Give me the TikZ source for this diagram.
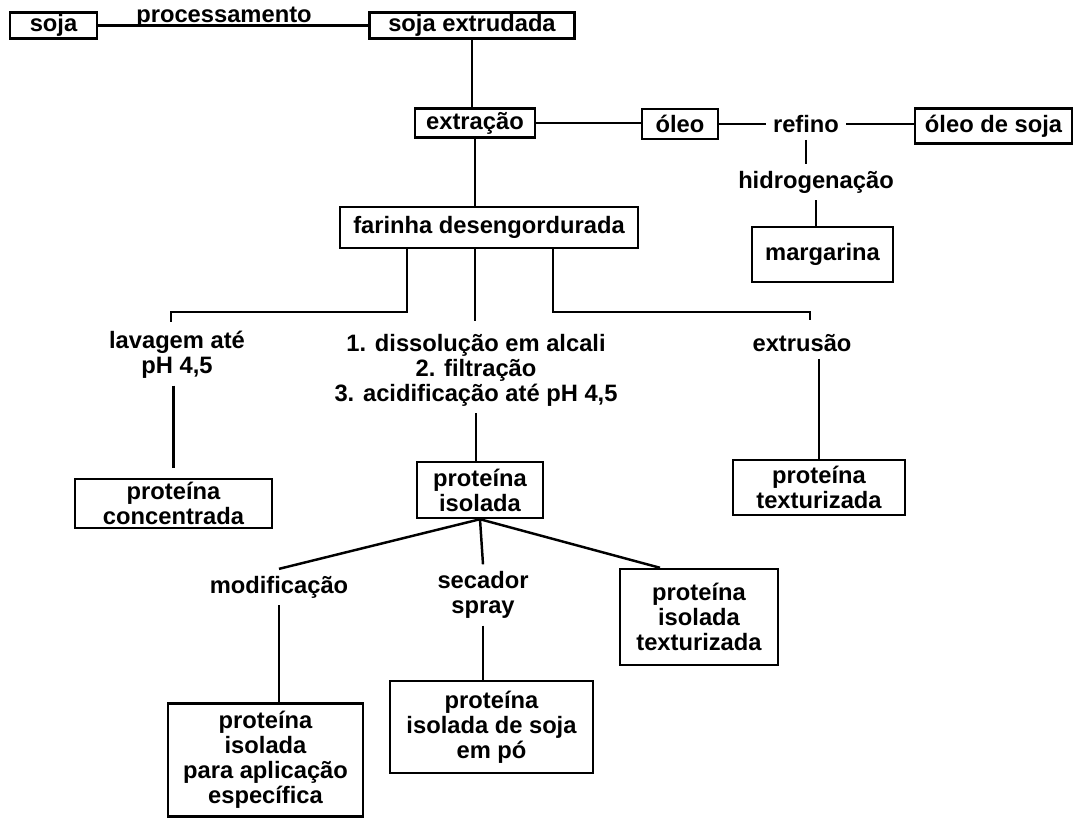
\documentclass[tikz,border=0pt]{standalone}
\usepackage{fontspec}
\setmainfont{Liberation Sans}

\begin{document}
\begin{tikzpicture}[x=0.02cm,y=-0.02cm,line width=1.4pt,
		font=\bfseries\fontsize{13.5}{14.2}\selectfont,
		caixa/.style={rectangle,draw=black,align=center,inner sep=1pt},
		etapa/.style={align=center}]
	\useasboundingbox (0,0) rectangle (1077,818);

		% linha de cima
		\node[caixa,minimum width=1.74cm,minimum height=.5cm] (soja) at (53.5,25.5) {soja};
		\node[caixa,minimum width=4.1cm,minimum height=.48cm] (sojaext) at (472,25.5) {soja extrudada};
		\node[etapa,anchor=base] (proc) at (224,22) {processamento};

		% oleo
		\node[caixa,minimum width=2.4cm,minimum height=.58cm] (extracao) at (475,123) {extração};
		\node[caixa,minimum width=1.52cm,minimum height=.6cm] (oleo) at (680,124) {óleo};
		\node[etapa] (refino) at (806,124) {refino};
		\node[caixa,minimum width=3.14cm,minimum height=.7cm] (oleosoja) at (993.5,126) {óleo de soja};
		\node[etapa] (hidrog) at (816,182) {hidrogenação};
		\node[caixa,minimum width=2.82cm,minimum height=1.1cm] (margarina) at (822.5,254.5) {margarina};

		% farinha e ramos
		\node[caixa,minimum width=5.96cm,minimum height=.82cm] (farinha) at (489,227.5) {farinha desengordurada};
		\node[etapa] (lavagem) at (177,355) {lavagem até\\pH 4,5};
		\node[etapa] (dissol) at (476,370) {1. dissolução em alcali\\2. filtração\\3. acidificação até pH 4,5};
		\node[etapa] (extrusao) at (802,343) {extrusão};
		\coordinate (jE) at (171,312);
		\coordinate (jD) at (810,312);

		% produtos
		\node[caixa,minimum width=3.94cm,minimum height=.98cm] (concent) at (173.5,503.5) {proteína\\concentrada};
		\node[caixa,minimum width=2.52cm,minimum height=1.12cm] (isolada) at (480,490) {proteína\\isolada};
		\node[caixa,minimum width=3.44cm,minimum height=1.1cm] (textur) at (819,487.5) {proteína\\texturizada};

		% isolada
		\node[etapa] (modif) at (279,587) {modificação};
		\node[etapa] (secador) at (483,595) {secador\\spray};
		\node[caixa,minimum width=3.16cm,minimum height=1.92cm] (isoltext) at (699,617) {proteína\\isolada\\texturizada};
		\node[caixa,minimum width=3.9cm,minimum height=2.26cm] (especif) at (265.5,760) {proteína\\isolada\\para aplicação\\específica};
		\node[caixa,minimum width=4.06cm,minimum height=1.84cm] (empo) at (491.5,727) {proteína\\isolada de soja\\em pó};

		% ligacoes
		\draw (soja) -- (sojaext);
		\draw (sojaext.south) -- (sojaext.south |- extracao.north);
		\draw (extracao.east) -- (extracao.east -| oleo.west);
		\draw (oleo) -- (refino);
		\draw (refino) -- (refino -| oleosoja.west);
		\draw (refino.south) -- (refino.south |- hidrog.north);
		\draw (hidrog.south) -- (hidrog.south |- margarina.north);
		\draw (extracao.south) -- (extracao.south |- farinha.north);

		\draw ([xshift=-1.64cm]farinha.south) |- (jE) -- ++(0,10);
		\draw ([xshift=-.28cm]farinha.south) -- ++(0,72);
		\draw ([xshift=1.28cm]farinha.south) |- (jD) -- ++(0,8);

		\draw[shorten >=.2cm] (lavagem.south -| concent.north) -- (concent.north);
		\draw (dissol.south) -- (dissol.south |- isolada.north);
		\draw (textur.north |- extrusao.south) -- (textur.north);

		\draw (isolada.south) -- (modif.north);
		\draw (isolada.south) -- (secador.north);
		\draw (isolada.south) -- ([xshift=-.78cm]isoltext.north);
		\draw (modif.south) -- (modif.south |- especif.north);
		\draw (secador.south) -- (secador.south |- empo.north);
	\end{tikzpicture}
\end{document}
